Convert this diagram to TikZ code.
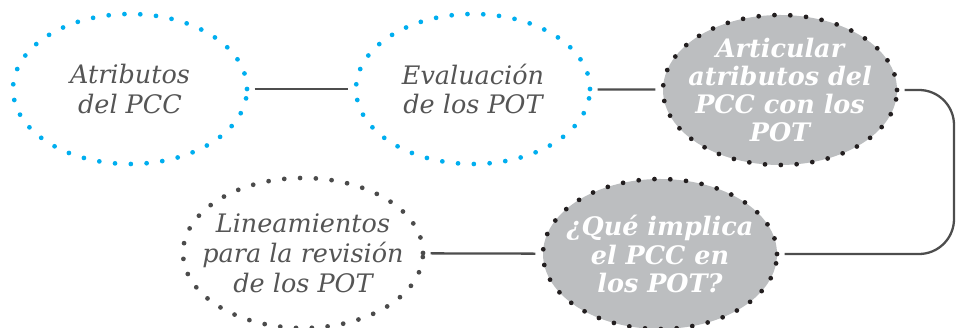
\documentclass[tikz,border=0pt]{standalone}
\usepackage{fontspec}
\setmainfont{DejaVu Serif}
\usetikzlibrary{shapes.geometric}
\definecolor{dotblue}{RGB}{0,174,239}
\definecolor{dotdark}{RGB}{35,31,32}
\definecolor{dotgray}{RGB}{75,75,75}
\definecolor{ovalfill}{RGB}{188,190,192}
\definecolor{txtgray}{RGB}{85,85,85}
\definecolor{linkgray}{RGB}{77,77,77}
\begin{document}
\begin{tikzpicture}[
    oval/.style={ellipse, minimum width=4.68cm, minimum height=3cm, inner sep=-10mm,
                 line width=2.7pt, line cap=round, dash pattern=on 0pt off 9pt,
                 align=center, font=\itshape\fontsize{14.5}{17}\selectfont},
    blueoval/.style={oval, draw=dotblue, text=txtgray},
    grayoval/.style={oval, draw=dotdark, fill=ovalfill, text=white,
                     font=\bfseries\itshape\fontsize{14.5}{16}\selectfont},
    plainoval/.style={oval, draw=dotgray, text=txtgray},
    link/.style={draw=linkgray, line width=1.3pt, shorten <=3pt, shorten >=3pt}]
    \useasboundingbox (0,0) rectangle (19.12,6.56);
    \node[blueoval] (attr) at (2.60,4.78) {Atributos\\del PCC};
    \node[blueoval] (eval) at (9.46,4.78) {Evaluación\\de los POT};
    \node[grayoval] (artic) at (15.60,4.76) {Articular\\atributos del\\PCC con los\\POT};
    \node[grayoval] (impl) at (13.20,1.48) {¿Qué implica\\el PCC en\\los POT?};
    \node[plainoval, minimum width=4.8cm] (linea) at (6.06,1.50) {Lineamientos\\para la revisión\\de los POT};
    \draw[link] (attr) -- (eval);
    \draw[link] (eval) -- (artic);
    \draw[link] (linea) -- (impl);
    \draw[link, rounded corners=0.7cm] (artic.east) -| (19.08,3) |- (impl.east);
\end{tikzpicture}
\end{document}
